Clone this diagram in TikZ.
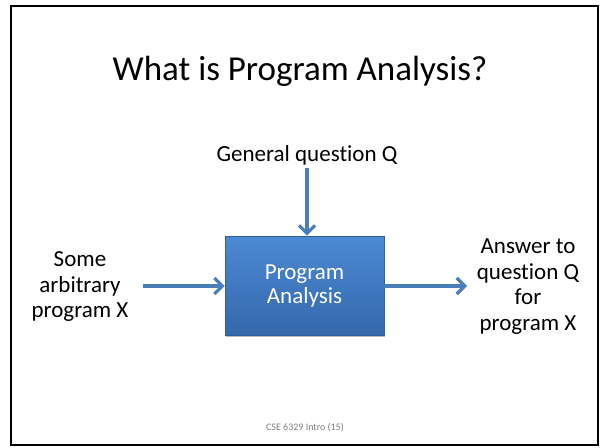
\documentclass[tikz,border=0pt]{standalone}
\usepackage{fontspec}
\setmainfont[Ligatures=NoCommon]{Carlito}
\usetikzlibrary{arrows.meta,shadows}
\definecolor{flowblue}{RGB}{74,126,187}
\definecolor{boxtop}{RGB}{76,138,212}
\definecolor{boxbot}{RGB}{52,104,172}
\tikzset{
  x=1pt, y=-1pt,
  label/.style={align=center, font=\fontsize{23}{25.5}\selectfont, text=black},
  flow/.style={draw=flowblue, line width=3.2pt,
    -{Straight Barb[length=8pt, width=16pt, line width=3.2pt]}},
  procbox/.style={rectangle, minimum width=159pt, minimum height=99pt,
    top color=boxtop, bottom color=boxbot, draw=boxbot!90!black, line width=0.6pt,
    text=white, align=center, font=\fontsize{23}{24}\selectfont,
    drop shadow={shadow xshift=1pt, shadow yshift=-2pt, fill=black!45, opacity=0.6}}
}
\begin{document}
\begin{tikzpicture}
  % page and slide frame
  \fill[white] (0,0) rectangle (602,447);
  \useasboundingbox (0,0) rectangle (602,447);
  \draw[black, line width=2pt] (11,6) rectangle (598,445);

  % title
  \node[font=\fontsize{35}{42}\selectfont] (title) at (300,71) {What is Program Analysis?};

  % central process
  \node[procbox] (proc) at (304.5,285.5) {Program\\Analysis};

  % inputs and output
  \node[label] (question) at (307,155) {General question Q};
  \node[label] (input) at (80,287) {Some\\arbitrary\\program X};
  \node[label] (answer) at (528,286.5) {Answer to\\question Q\\for\\program X};

  \coordinate (qend) at (307,168);
  \draw[flow] (qend) -- (proc.north -| qend);
  \coordinate (inend) at (143,286);
  \draw[flow] (inend) -- (proc.west |- inend);
  \coordinate (outend) at (467,286);
  \draw[flow] (proc.east |- outend) -- (outend);

  % footer
  \node[font=\fontsize{10}{12}\selectfont, text=black!50] (footer) at (305,428) {CSE 6329 Intro (15)};
\end{tikzpicture}
\end{document}
